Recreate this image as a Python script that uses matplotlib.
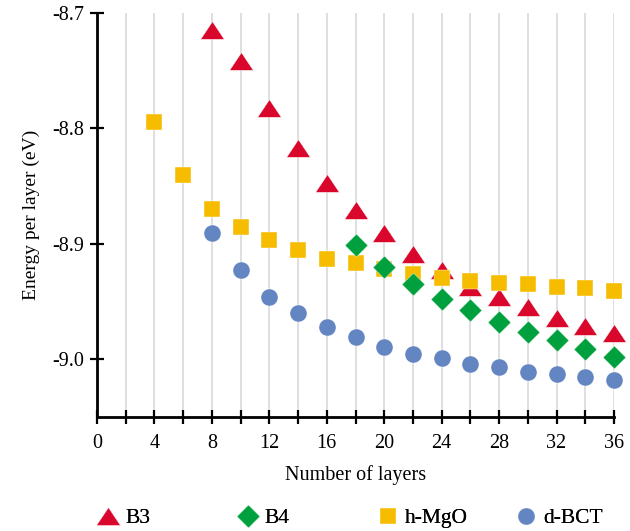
import numpy as np
import matplotlib
matplotlib.use("Agg")
import matplotlib.pyplot as plt
from matplotlib.ticker import MultipleLocator, FormatStrFormatter

plt.rcParams['font.family'] = ['Liberation Serif', 'DejaVu Serif']
plt.rcParams['axes.unicode_minus'] = False

# --- data ---
x_b3 = [8, 10, 12, 14, 16, 18, 20, 22, 24, 26, 28, 30, 32, 34, 36]
e_b3 = [-8.715, -8.742, -8.782, -8.817, -8.847, -8.871, -8.891, -8.909,
        -8.923, -8.937, -8.946, -8.955, -8.964, -8.971, -8.977]

x_b4 = [18, 20, 22, 24, 26, 28, 30, 32, 34, 36]
e_b4 = [-8.901, -8.920, -8.935, -8.948, -8.957, -8.968, -8.976, -8.983,
        -8.991, -8.998]

x_mgo = [4, 6, 8, 10, 12, 14, 16, 18, 20, 22, 24, 26, 28, 30, 32, 34, 36]
e_mgo = [-8.794, -8.840, -8.870, -8.885, -8.897, -8.905, -8.913, -8.917,
         -8.922, -8.926, -8.930, -8.932, -8.934, -8.935, -8.937, -8.938, -8.941]

x_bct = [8, 10, 12, 14, 16, 18, 20, 22, 24, 26, 28, 30, 32, 34, 36]
e_bct = [-8.891, -8.923, -8.946, -8.960, -8.972, -8.981, -8.989, -8.995,
         -8.999, -9.004, -9.007, -9.011, -9.013, -9.015, -9.018]

# custom markers (wide flat triangle, diamond)
tri = [(-1, -0.75), (1, -0.75), (0, 0.75), (-1, -0.75)]
dia = [(0, 1), (1, 0), (0, -1), (-1, 0), (0, 1)]

series = [
    (x_b3, e_b3, 'B3', tri, 17, '#D9072B'),
    (x_b4, e_b4, 'B4', dia, 16.5, '#00A03E'),
    (x_mgo, e_mgo, 'h-MgO', 's', 11.5, '#F6BC00'),
    (x_bct, e_bct, 'd-BCT', 'o', 12.3, '#6385C1'),
]

fig = plt.figure(figsize=(6.3, 5.31), dpi=100)
ax = fig.add_axes([97 / 630, 1 - 417 / 531, 517 / 630, 404 / 531])

# draw order: squares over triangles, diamonds on top
order = [0, 3, 2, 1]
lines = {}
for i in order:
    xs, ys, lab, mk, ms, col = series[i]
    h, = ax.plot(xs, ys, linestyle='none', marker=mk, markersize=ms,
                 markerfacecolor=col, markeredgecolor='white',
                 markeredgewidth=0.3, clip_on=False, label=lab, zorder=3)
    lines[i] = h
handles = [lines[i] for i in range(4)]

ax.set_xlim(0, 36)
ax.set_ylim(-9.05, -8.7)
ax.xaxis.set_major_locator(MultipleLocator(4))
ax.xaxis.set_minor_locator(MultipleLocator(2))
ax.yaxis.set_major_locator(MultipleLocator(0.1))
ax.yaxis.set_major_formatter(FormatStrFormatter('%.1f'))

ax.grid(True, axis='x', which='both', color='#D9D9D9', linewidth=1.2, zorder=0)
ax.set_axisbelow(True)

for s in ['top', 'right']:
    ax.spines[s].set_visible(False)
for s in ['left', 'bottom']:
    ax.spines[s].set_linewidth(2)
    ax.spines[s].set_color('black')

ax.tick_params(axis='both', which='both', direction='inout', length=10,
               width=1.6, labelsize=14.5, colors='black')
ax.tick_params(axis='x', pad=7)
ax.tick_params(axis='y', pad=4)

ax.set_xlabel('Number of layers', fontsize=14.5, labelpad=9)
ax.set_ylabel('Energy per layer (eV)', fontsize=14, labelpad=9)

# legend entries at equal spacing under the plot
starts = [0.155, 0.376, 0.598, 0.818]
for h, x0 in zip(handles, starts):
    leg = fig.legend(handles=[h], loc='center left', bbox_to_anchor=(x0, 0.024),
                     frameon=False, fontsize=15.5, handlelength=1.0,
                     handletextpad=0.3, borderpad=0, borderaxespad=0)
    fig.add_artist(leg)

fig.savefig('out.png', dpi=100)
